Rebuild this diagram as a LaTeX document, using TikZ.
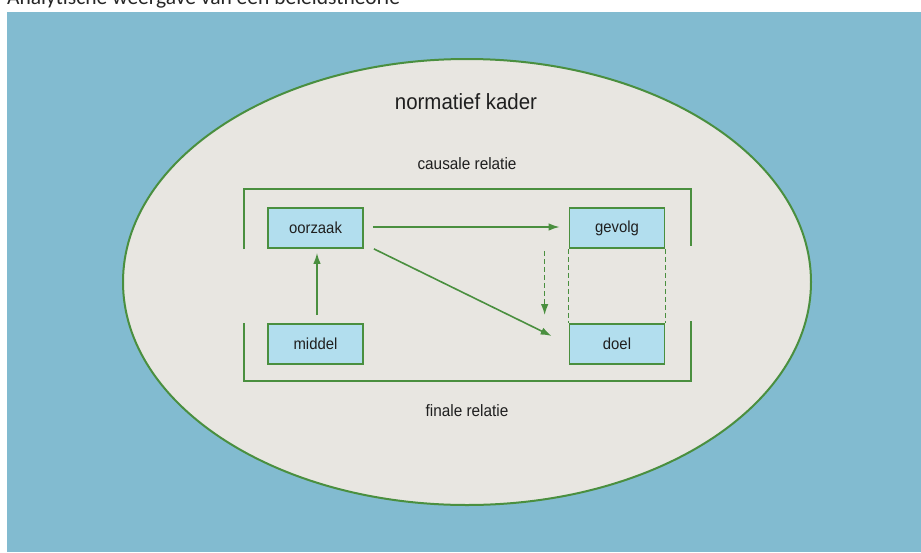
\documentclass[tikz,border=0pt]{standalone}
\usepackage{fontspec}
\setmainfont[FakeStretch=0.93]{Liberation Sans}
\newfontfamily\titlefont{Carlito}
\usetikzlibrary{arrows.meta,calc}
\definecolor{bgblue}{HTML}{82BBD0}
\definecolor{ellfill}{HTML}{E8E6E1}
\definecolor{lgreen}{HTML}{4A8F3F}
\definecolor{boxfill}{HTML}{B2DEEE}
\tikzset{
  box/.style={draw=lgreen, line width=1.7pt, fill=boxfill, minimum width=95pt, minimum height=40pt, inner sep=0pt, font=\fontsize{16}{18}\selectfont, text=black!88},
  conn/.style={draw=lgreen, line width=1.6pt, -{Latex[length=11pt,width=7.5pt]}},
  dconn/.style={conn, dash pattern=on 5pt off 3pt},
  dline/.style={draw=lgreen, line width=1.6pt, dash pattern=on 5pt off 3pt},
  bracket/.style={draw=lgreen, line width=1.7pt},
  lbl/.style={font=\fontsize{16.5}{18}\selectfont, text=black!88, inner sep=0pt},
}
\begin{document}
\begin{tikzpicture}[x=1pt,y=-1pt]
\useasboundingbox (0,0) rectangle (921,552);
\fill[white] (0,0) rectangle (921,552);
\node[anchor=base west, inner sep=0pt, font=\titlefont\fontsize{21.5}{24}\selectfont, text=black!85] (title) at (7,4.5) {Analytische weergave van een beleidstheorie};
\fill[bgblue] (7,12) rectangle (921,552);
\draw[lgreen, line width=2pt, fill=ellfill] (467,282) ellipse [x radius=344, y radius=223];
\node[lbl, font=\fontsize{22}{24}\selectfont] (kader) at (466,102) {normatief kader};
\node[lbl] (causaal) at (467,164) {causale relatie};
\node[lbl] (finaal) at (467,411) {finale relatie};
\node[box] (oorzaak) at (315.5,228) {oorzaak};
\node[box] (gevolg) at (617,228) {gevolg};
\node[box] (middel) at (315.5,344) {middel};
\node[box] (doel) at (617,344) {doel};
\draw[bracket] (244,249) -- (244,189) -- (691,189) -- (691,246);
\draw[bracket] (244,323) -- (244,381) -- (691,381) -- (691,321);
\coordinate (hstart) at ($(oorzaak.east)+(9,-1)$);
\coordinate (hend) at ($(gevolg.west)+(-9,-1)$);
\draw[conn] (hstart) -- (hend);
\coordinate (dstart) at ($(oorzaak.south east)+(10,0)$);
\coordinate (dend) at ($(doel.west)+(-17,-8)$);
\draw[conn] (dstart) -- (dend);
\coordinate (vstart) at ($(middel.north)+(1.5,-8)$);
\coordinate (vend) at ($(oorzaak.south)+(1.5,4)$);
\draw[conn] (vstart) -- (vend);
\coordinate (dvstart) at ($(gevolg.south west)+(-24,2)$);
\coordinate (dvend) at ($(doel.north west)+(-24,-8)$);
\draw[dconn] (dvstart) -- (dvend);
\draw[dline] (gevolg.south west) -- (doel.north west);
\draw[dline] (gevolg.south east) -- (doel.north east);
\end{tikzpicture}
\end{document}
